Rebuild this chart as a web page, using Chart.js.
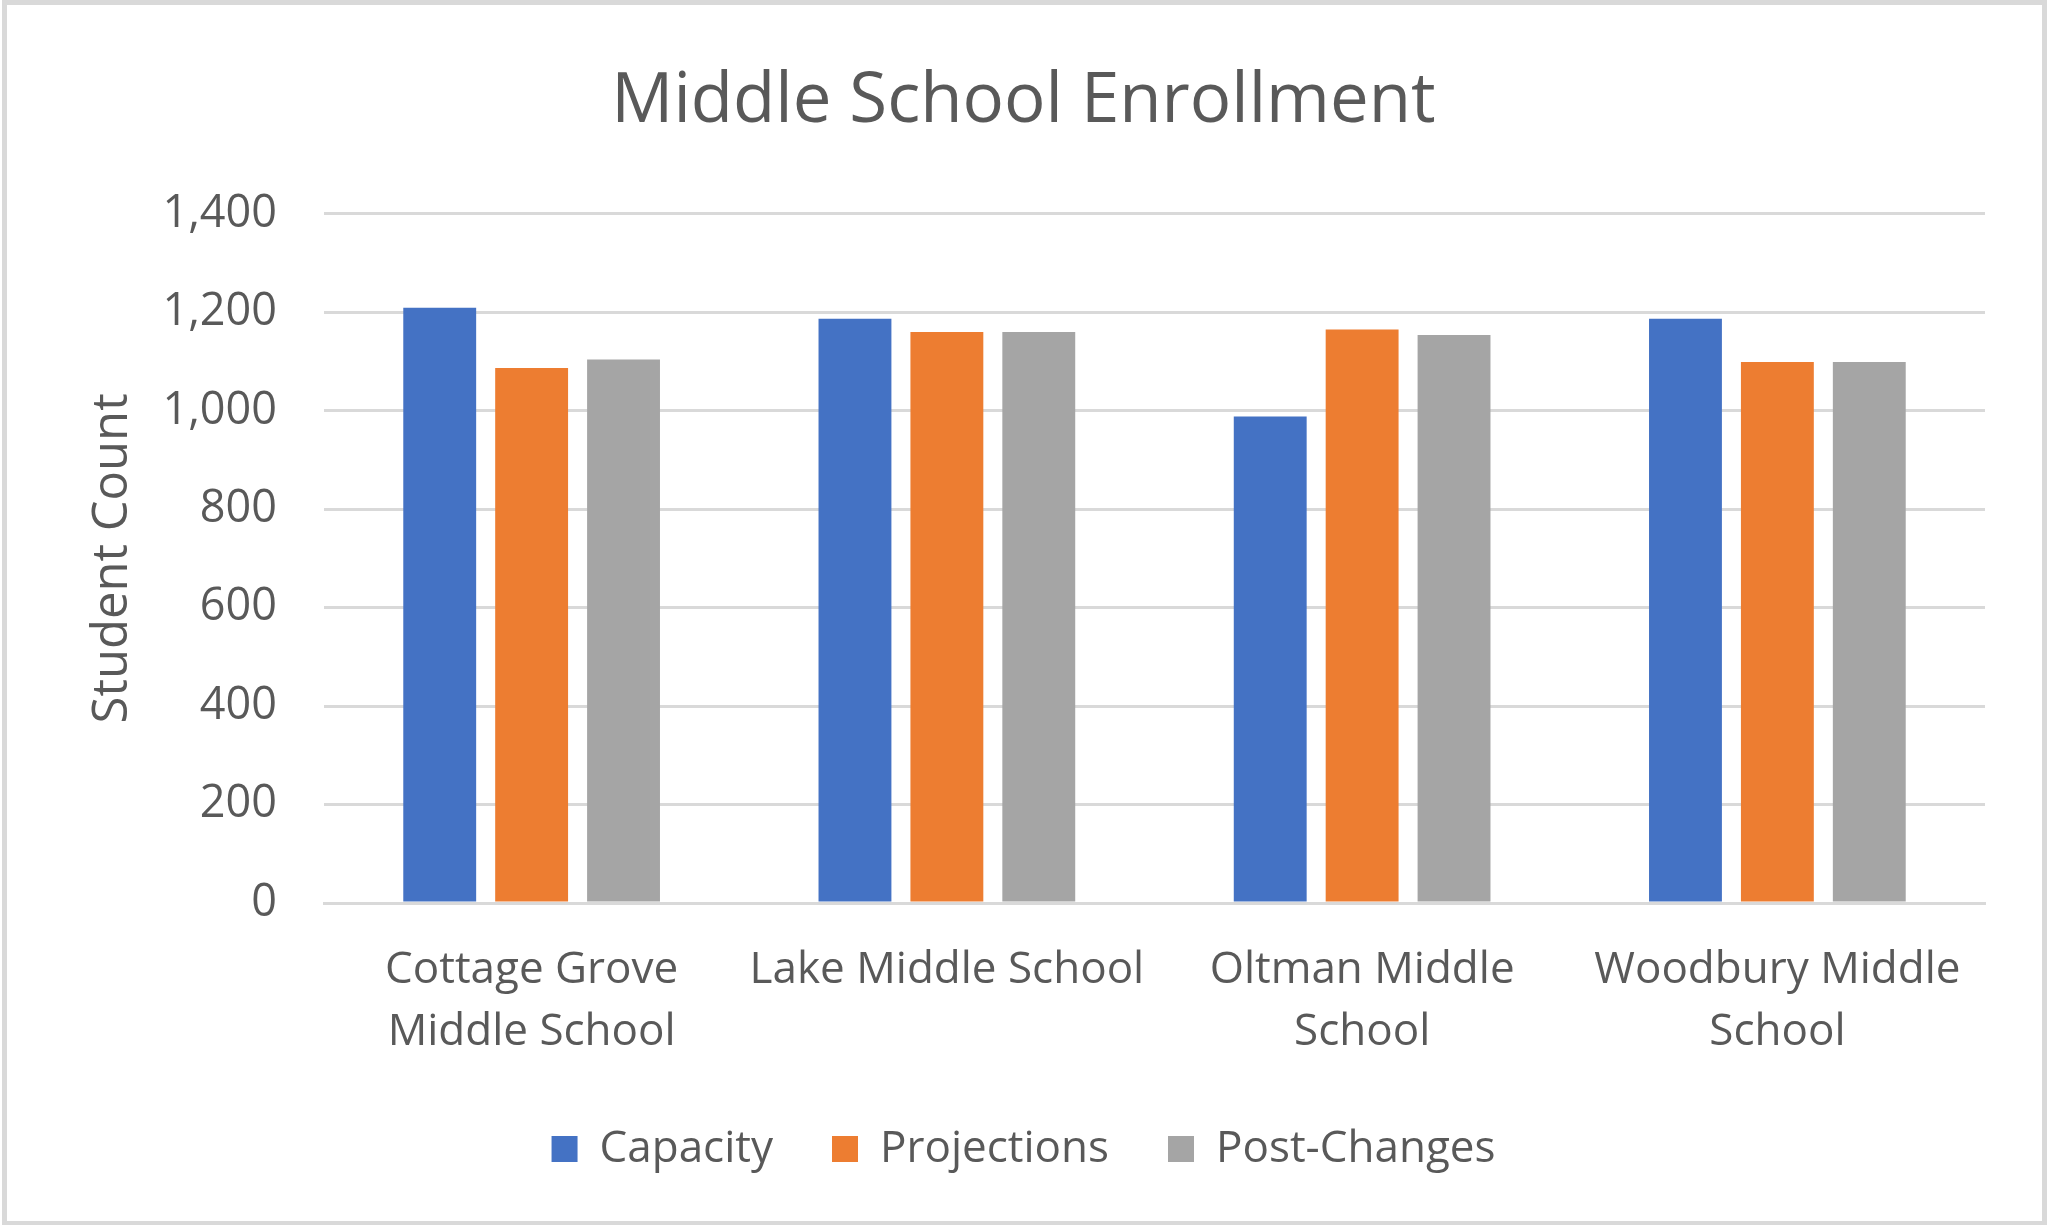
<!DOCTYPE html>
<html>
<head>
<meta charset="utf-8">
<script src="https://cdn.jsdelivr.net/npm/chart.js@4.4.1/dist/chart.umd.min.js"></script>
<style>
html,body{margin:0;padding:0;background:#fff;}
canvas{display:block;}
</style>
</head>
<body>
<canvas id="c" width="2047" height="1225"></canvas>
<script>
const categories = [
  ["Cottage Grove", "Middle School"],
  ["Lake Middle School"],
  ["Oltman Middle", "School"],
  ["Woodbury Middle", "School"]
];
const capacity = [1209, 1187, 988, 1187];
const projections = [1087, 1160, 1165, 1099];
const postChanges = [1104, 1160, 1154, 1099];
const seriesNames = ["Capacity", "Projections", "Post-Changes"];
const yTicks = [0, 200, 400, 600, 800, 1000, 1200, 1400];

const FONT = "'Open Sans', 'Noto Sans', sans-serif";
const TEXT = "#595959";
const GRID = "#d9d9d9";

const borderPlugin = {
  id: 'frame',
  beforeDraw(chart) {
    const ctx = chart.ctx;
    ctx.save();
    ctx.fillStyle = '#fff';
    ctx.fillRect(0, 0, chart.width, chart.height);
    ctx.strokeStyle = GRID;
    ctx.lineWidth = 5;
    ctx.strokeRect(4.5, 2.5, chart.width - 7, chart.height - 4);
    ctx.restore();
  }
};

new Chart(document.getElementById('c'), {
  type: 'bar',
  data: {
    labels: categories,
    datasets: [
      { label: seriesNames[0], data: capacity, backgroundColor: '#4472C4' },
      { label: seriesNames[1], data: projections, backgroundColor: '#ED7D31' },
      { label: seriesNames[2], data: postChanges, backgroundColor: '#A5A5A5' }
    ]
  },
  options: {
    responsive: false,
    animation: false,
    devicePixelRatio: 1,
    layout: { padding: { left: 62, right: 62, top: 0, bottom: 44 } },
    datasets: { bar: { categoryPercentage: 0.664, barPercentage: 0.793 } },
    plugins: {
      tooltip: { enabled: false },
      title: {
        display: true,
        text: 'Middle School Enrollment',
        color: TEXT,
        font: { family: FONT, size: 69, weight: 'normal', lineHeight: 1.2 },
        padding: { top: 61, bottom: 70 }
      },
      legend: {
        position: 'bottom',
        labels: {
          color: TEXT,
          font: { family: FONT, size: 44 },
          boxWidth: 26,
          boxHeight: 26,
          padding: 59
        }
      }
    },
    scales: {
      x: {
        grid: { display: false, drawTicks: false },
        border: { display: true, color: GRID, width: 3 },
        ticks: {
          color: TEXT,
          font: { family: FONT, size: 44, lineHeight: 1.42 },
          padding: 36,
          maxRotation: 0,
          autoSkip: false
        },
        afterFit(scale) { scale.height = 165; }
      },
      y: {
        min: 0,
        max: 1400,
        afterBuildTicks(scale) { scale.ticks = yTicks.map(v => ({ value: v })); },
        grid: { color: GRID, lineWidth: 3, drawTicks: false },
        border: { display: false },
        ticks: {
          color: TEXT,
          font: { family: FONT, size: 45 },
          padding: 47,
          callback: v => v.toLocaleString('en-US')
        },
        title: {
          display: true,
          text: 'Student Count',
          color: TEXT,
          font: { family: FONT, size: 49 },
          padding: { top: 22, bottom: 0 }
        },
        afterFit(scale) { scale.width = 262; }
      }
    }
  },
  plugins: [borderPlugin]
});
</script>
</body>
</html>
